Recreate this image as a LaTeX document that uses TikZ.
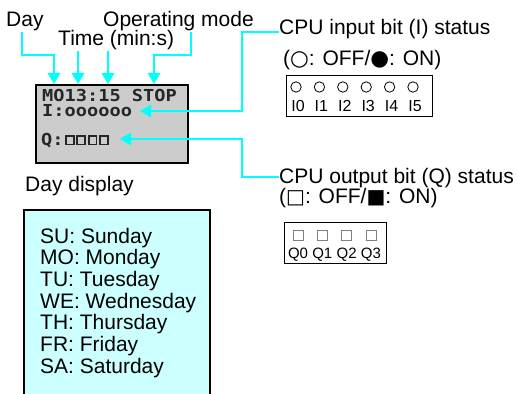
\documentclass[tikz,border=0pt]{standalone}
\usepackage{fontspec}
\setmainfont{Liberation Sans}
\newfontfamily\lcdfont[FakeStretch=1.13]{DejaVu Sans Mono}
\newfontfamily\symfont{DejaVu Sans}
\usetikzlibrary{arrows.meta}
\definecolor{arrowcyan}{HTML}{00FFFF}
\definecolor{lcdgray}{HTML}{CCCCCC}
\definecolor{listcyan}{HTML}{CCFFFF}
\newcommand{\symcirc}{\symfont\fontsize{21.5}{21.5}\selectfont}
\newcommand{\symsquare}{\symfont\fontsize{20}{20}\selectfont}
\begin{document}
\begin{tikzpicture}[x=1pt,y=-1pt,
  lbl/.style={inner sep=0pt, anchor=base west, font=\fontsize{21}{22}\selectfont},
  bitlbl/.style={inner sep=0pt, anchor=base, font=\fontsize{15}{15}\selectfont},
  lcdtext/.style={inner sep=0pt, anchor=base west, text height=12pt, text depth=0pt, text=black!85, font=\lcdfont\bfseries\fontsize{16.5}{16.5}\selectfont},
  callout/.style={draw=arrowcyan, line width=1.8pt},
  pointer/.style={callout, -{Triangle[length=11pt,width=12.5pt]}},
  lcdsq/.style={draw=black!85, line width=1.8pt},
  ledcircle/.style={draw=black, line width=0.8pt},
  ledsq/.style={draw=black!50, line width=0.8pt},
  panel/.style={draw=black, line width=0.8pt, inner sep=0pt, anchor=north west},
]
\useasboundingbox (0,0) rectangle (518,393);

% LCD
\node[draw=black, line width=2pt, fill=lcdgray, minimum width=152pt, minimum height=78pt, inner sep=0pt, anchor=north west] (lcd) at (35,84) {};
\node[lcdtext] (l1) at (42,101) {MO13:15 STOP};
\node[lcdtext] (l2) at (42,116) {I:oooooo};
\node[lcdtext] (l3) at (41,145.5) {Q:};
\foreach \i in {0,...,3} {
  \draw[lcdsq] (66+11.3*\i,136.3) rectangle ++(7.8,8.2);
}

% top labels
\node[lbl] (day) at (6,27) {Day};
\node[lbl] (time) at (58,46) {Time (min:s)};
\node[lbl] (mode) at (103,27) {Operating mode};

\draw[pointer] (22,0 |- day.south) |- (54,55) -- (54,0 |- lcd.north);
\draw[pointer] (78,0 |- time.south) -- (78,0 |- lcd.north);
\draw[pointer] (108,0 |- time.south) -- (108,0 |- lcd.north);
\draw[pointer] (191,0 |- mode.south) |- (154,55) -- (154,0 |- lcd.north);

% input status
\node[lbl] (inlbl) at (279,35) {CPU input bit (I) status};
\node[lbl] (inlegend) at (283,66) {({\symcirc ○}: OFF/{\symcirc ●}: ON)};
\node[panel, minimum width=146pt, minimum height=41pt] (inbox) at (286,75) {};
\foreach \i in {0,...,5} {
  \draw[ledcircle] (296+23.4*\i,87) circle (5.2);
  \node[bitlbl, font=\fontsize{16}{16}\selectfont] (ib\i) at (298+23.4*\i,111.5) {I\i};
}
\draw[pointer] (inlbl.west |- 0,32) -- (242,32) -- (242,111) -- (140,111);

% output status
\node[lbl] (outlbl) at (279,183) {CPU output bit (Q) status};
\node[lbl] (outlegend) at (279,203) {({\symsquare □}: OFF/{\symsquare ■}: ON)};
\node[panel, minimum width=102pt, minimum height=41pt] (outbox) at (284,222) {};
\foreach \i in {0,...,3} {
  \draw[ledsq] (293+24.3*\i,230) rectangle ++(10,10);
  \node[bitlbl] (qb\i) at (298+24.3*\i,258) {Q\i};
}
\draw[pointer] (outlbl.west |- 0,177) -- (242,177) -- (242,139) -- (120,139);

% day display
\node[lbl] (daydisp) at (25,191) {Day display};
\node[draw=black, line width=2pt, fill=listcyan, anchor=north west, minimum width=186pt, minimum height=200pt, inner sep=0pt] (daybox) at (23,209) {};
\foreach \t [count=\k from 0] in {SU: Sunday, MO: Monday, TU: Tuesday, WE: Wednesday, TH: Thursday, FR: Friday, SA: Saturday} {
  \node[lbl] (dl\k) at (40,243+21.7*\k) {\t};
}
\end{tikzpicture}
\end{document}
